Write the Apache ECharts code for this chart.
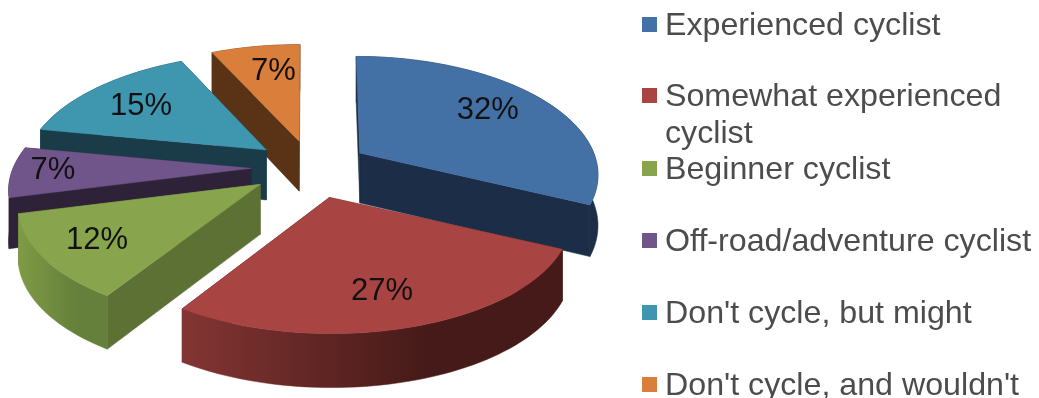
<!DOCTYPE html>
<html>
<head>
<meta charset="utf-8">
<style>html,body{margin:0;padding:0;background:#fff}#c{width:1039px;height:398px}</style>
<script src="https://cdn.jsdelivr.net/npm/echarts@6/dist/echarts.min.js"></script>
</head>
<body>
<div id="c"></div>
<script>
const categories = ['Experienced cyclist', 'Somewhat experienced cyclist', 'Beginner cyclist', 'Off-road/adventure cyclist', "Don't cycle, but might", "Don't cycle, and wouldn't"];
const shares = [32, 27, 12, 7, 15, 7];

const topColors = ['#4471A5', '#A84442', '#88A44D', '#6F5589', '#3F96AF', '#D97F3B'];
const wallColors = ['#1B2D47', '#451A18', '#5E7135', '#2D2237', '#1A3B48', '#5A3317'];
const rimLeft = ['#1B2D47', '#833533', '#7F9B45', '#2D2237', '#1A3B48', '#5A3317'];
const rimRight = ['#1B2D47', '#451A18', '#64803A', '#2D2237', '#1A3B48', '#5A3317'];
const paintRank = [1, 5, 4, 3, 2, 0];

const view = {cx: 310, cy: 167.5, ex: 59, ey: 27, rx: 238, ry: 113, persp: 0.17, depth: 50, labelAt: 0.72};
const radiusScale = [0.983, 1, 1, 1, 1, 1];
const apexNudge = [[0, 0], [3, 4], [-2, 1], [0, 0], [3, -1], [2, 0]];
const labelNudge = [[-4, -2], [-3, 5], [-12, 5], [-26, 0], [-1, 3], [7, 1]];
const legendCentres = [24, 95, 168, 240, 312, 384];
const total = shares.reduce((a, b) => a + b, 0);

function sliceShape(index) {
  const before = shares.slice(0, index).reduce((a, b) => a + b, 0);
  const a0 = before / total * Math.PI * 2;
  const a1 = (before + shares[index]) / total * Math.PI * 2;
  const mid = (a0 + a1) / 2;
  const apex = [
    view.cx + view.ex * Math.sin(mid) + apexNudge[index][0],
    view.cy - view.ey * Math.cos(mid) + apexNudge[index][1]
  ];
  const project = (a, r) => {
    const X = Math.sin(a) * r, Y = -Math.cos(a) * r;
    const s = 1 / (1 - view.persp * Y);
    return {
      p: [apex[0] + view.rx * radiusScale[index] * X * s + (apex[0] - view.cx) * (s - 1) * 0.5, apex[1] + view.ry * Y * s],
      d: view.depth * (1 + 0.08 * Y)
    };
  };
  const down = o => [o.p[0], o.p[1] + o.d];
  const arc = [];
  const steps = Math.max(8, Math.round((a1 - a0) / 0.03));
  for (let i = 0; i <= steps; i++) arc.push(project(a0 + (a1 - a0) * i / steps, 1));
  const hub = project(0, 0);
  const radial = o => [hub.p, o.p, down(o), down(hub)];
  const lp = project(mid, view.labelAt).p;
  return {
    top: [hub.p].concat(arc.map(o => o.p)),
    rim: arc.map(o => o.p).concat(arc.slice().reverse().map(down)),
    wallStart: radial(arc[0]),
    wallEnd: radial(arc[arc.length - 1]),
    label: [lp[0] + labelNudge[index][0], lp[1] + labelNudge[index][1]]
  };
}

function renderSlice(index) {
  return function (params, api) {
    const value = api.value(0);
    const g = sliceShape(index);
    const poly = (points, fill) => ({type: 'polygon', shape: {points}, style: {fill, stroke: fill, lineWidth: 0.5}, silent: true});
    return {
      type: 'group',
      children: [
        poly(g.wallEnd, wallColors[index]),
        poly(g.wallStart, wallColors[index]),
        poly(g.rim, {type: 'linear', x: 0, y: 0, x2: 1, y2: 0, colorStops: [
          {offset: 0, color: rimLeft[index]}, {offset: 0.65, color: rimRight[index]}, {offset: 1, color: rimRight[index]}
        ]}),
        poly(g.top, topColors[index]),
        {type: 'text', x: g.label[0], y: g.label[1], style: {
          text: value + '%', fill: '#111', fontFamily: 'Liberation Sans', fontSize: 31, align: 'center', verticalAlign: 'middle'
        }}
      ]
    };
  };
}

const chart = echarts.init(document.getElementById('c'), null, {renderer: 'canvas'});
chart.setOption({
  animation: false,
  backgroundColor: '#fff',
  legend: categories.map((name, i) => {
    // The square sits at the top of a taller icon box (an empty lower sub-path stretches it),
    // so it lines up with the first line of text as in the reference.
    const iconBox = i === 1 ? 56 : 19;
    return {
      data: [name],
      left: 642,
      top: legendCentres[i] - 21,
      padding: 0,
      selectedMode: false,
      icon: 'path://M0 0H15V15H0Z M0 ' + iconBox + 'H15V' + iconBox + 'H0Z',
      itemWidth: 15,
      itemHeight: iconBox,
      textStyle: {
        color: '#4c4c4c', fontFamily: 'Liberation Sans', fontSize: 32.2,
        lineHeight: 37, width: 400, overflow: 'break', padding: [10, 0, 0, 3]
      }
    };
  }),
  series: categories.map((name, i) => ({
    type: 'custom',
    name,
    coordinateSystem: 'none',
    z: 2 + paintRank[i],
    clip: false,
    silent: true,
    itemStyle: {color: topColors[i]},
    data: [{name, value: [shares[i]]}],
    renderItem: renderSlice(i)
  }))
});
</script>
</body>
</html>
